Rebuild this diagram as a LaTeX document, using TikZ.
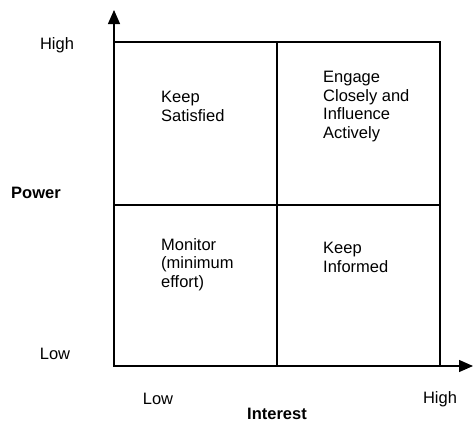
\documentclass[tikz,border=0pt]{standalone}
\usepackage{fontspec}
\setmainfont{Liberation Sans}
\usepackage{tikz}
\usetikzlibrary{positioning, arrows.meta}
\tikzset{
	every node/.append style={
		font={\fontsize{16.5}{18.6}\selectfont},
	},
	labe/.append style={
		align = left,
		anchor = north west,
		inner sep = 0pt,
	},
	axlabel/.append style={
		inner sep=0pt,
	},
	axtitle/.append style={
		inner sep=0pt,
		font={\fontsize{16.5}{18.6}\selectfont\bfseries},
	},
	grid/.append style={
		draw,
		line width=1.3pt,
	},
	axis/.append style={
		line width=1.3pt,
		-{Triangle[length=14pt,width=12pt]},
	}
}

\begin{document}
\begin{tikzpicture}[x=1pt, y=-1pt]
			\useasboundingbox (0,0) rectangle (474,429);

			\coordinate (origin) at (114,366);
			\coordinate (ytip) at (114,10);
			\coordinate (xtip) at (473,366);
			\coordinate (topright) at (440,42);

			\draw[grid] (origin) rectangle (topright);
			\draw[grid] (277,42) -- (277,366);
			\draw[grid] (114,205) -- (440,205);
			\draw[axis] (origin) -- (ytip);
			\draw[axis] (origin) -- (xtip);

			\node(satisfied)[labe] at (161,91) {Keep\\Satisfied};
			\node(engage)[labe] at (323,71) {Engage\\Closely and\\Influence\\Actively};
			\node(monitor)[labe] at (161,238) {Monitor\\(minimum\\effort)};
			\node(informed)[labe] at (323,242) {Keep\\Informed};

			\node(yhigh)[axlabel] at (57,45) {High};
			\node(ylow)[axlabel] at (55,354) {Low};
			\node(power)[axtitle] at (36,193) {Power};
			\node(xlow)[axlabel] at (158,399) {Low};
			\node(xhigh)[axlabel] at (440,399) {High};
			\node(interest)[axtitle] at (277,414) {Interest};
		\end{tikzpicture}
\end{document}
